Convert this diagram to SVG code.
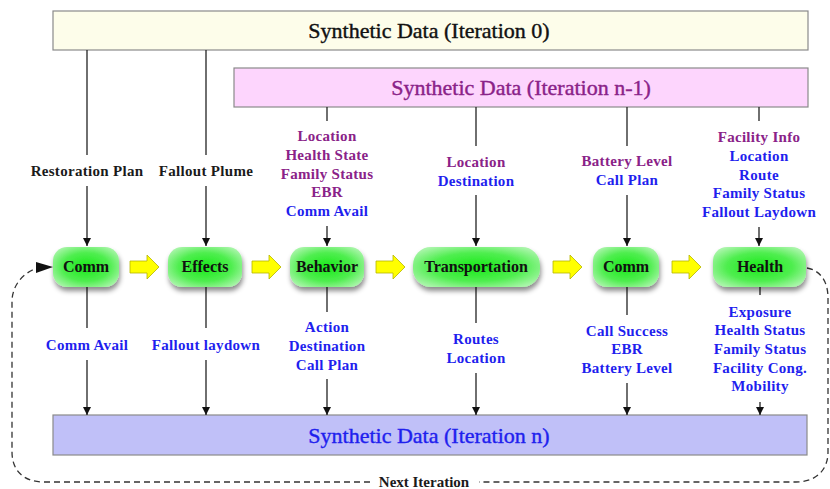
<svg xmlns="http://www.w3.org/2000/svg" xmlns:xlink="http://www.w3.org/1999/xlink" width="830" height="489" viewBox="0 0 830 489">
<style>
.box{stroke:#8a8a8a;stroke-width:1.2}
.title{font-size:22px;text-anchor:middle;stroke-width:0.4}
.lbl{font-size:15px;font-weight:bold;text-anchor:middle;letter-spacing:0.3px}
.node text{font-size:16px;font-weight:bold;text-anchor:middle;fill:#111}
.k{fill:#1a1a1a}
.p{fill:#8a2288}
.b{fill:#1f1fee}
.ln{stroke:#222;stroke-width:1.3;fill:none}
.ar{stroke:#222;stroke-width:1.3;fill:none;marker-end:url(#ah)}
.dash{stroke:#333;stroke-width:1.3;fill:none;stroke-dasharray:6 4}
.ya{fill:#ffff00;stroke:#b5b500;stroke-width:0.8}
</style>
<defs>
<marker id="ah" viewBox="0 0 10 10" refX="10" refY="5" markerWidth="8" markerHeight="8" orient="auto" markerUnits="userSpaceOnUse">
<path d="M0,0 L10,5 L0,10 Z" fill="#111"/>
</marker>
<radialGradient id="gg" cx="50%" cy="50%" r="60%">
<stop offset="0" stop-color="#18ea18"/>
<stop offset="0.6" stop-color="#50ee50"/>
<stop offset="1" stop-color="#a8f5a8"/>
</radialGradient>
<filter id="sh" x="-20%" y="-20%" width="140%" height="160%">
<feDropShadow dx="1" dy="4" stdDeviation="2.5" flood-color="#000" flood-opacity="0.45"/>
</filter>
<path id="ya" d="M0,-6 H17 V-12 L29,0 L17,12 V6 H0 Z"/>
</defs>

<g id="data0">
<rect class="box" x="53" y="11" width="755" height="39" fill="#fdfdea"/>
<text class="title" x="429" y="38" font-family="Liberation Serif, serif" fill="#111" stroke="#111">Synthetic Data (Iteration 0)</text>
</g>
<g id="datan1">
<rect class="box" x="234" y="68" width="574" height="39" fill="#fdd5fd"/>
<text class="title" x="521" y="95" font-family="Liberation Serif, serif" fill="#8a2288" stroke="#8a2288">Synthetic Data (Iteration n-1)</text>
</g>
<g id="datan">
<rect class="box" x="53" y="415" width="754" height="40" fill="#c0c0f8"/>
<text class="title" x="429" y="443" font-family="Liberation Serif, serif" fill="#1f1fee" stroke="#1f1fee">Synthetic Data (Iteration n)</text>
</g>

<g id="connectors">
<line class="ln" x1="87" y1="50" x2="87" y2="155"/>
<line class="ar" x1="87" y1="186" x2="87" y2="246"/>
<line class="ln" x1="206" y1="50" x2="206" y2="155"/>
<line class="ar" x1="206" y1="186" x2="206" y2="246"/>
<line class="ln" x1="327" y1="107" x2="327" y2="121"/>
<line class="ar" x1="327" y1="226" x2="327" y2="246"/>
<line class="ln" x1="476" y1="107" x2="476" y2="146"/>
<line class="ar" x1="476" y1="195" x2="476" y2="246"/>
<line class="ln" x1="627" y1="107" x2="627" y2="146"/>
<line class="ar" x1="627" y1="195" x2="627" y2="246"/>
<line class="ln" x1="759" y1="107" x2="759" y2="121"/>
<line class="ar" x1="759" y1="227" x2="759" y2="246"/>
<line class="ln" x1="87" y1="287" x2="87" y2="328"/>
<line class="ar" x1="87" y1="360" x2="87" y2="415"/>
<line class="ln" x1="206" y1="287" x2="206" y2="328"/>
<line class="ar" x1="206" y1="360" x2="206" y2="415"/>
<line class="ln" x1="327" y1="287" x2="327" y2="312"/>
<line class="ar" x1="327" y1="379" x2="327" y2="415"/>
<line class="ln" x1="476" y1="287" x2="476" y2="323"/>
<line class="ar" x1="476" y1="373" x2="476" y2="415"/>
<line class="ln" x1="627" y1="287" x2="627" y2="315"/>
<line class="ar" x1="627" y1="383" x2="627" y2="415"/>
<line class="ln" x1="760" y1="287" x2="760" y2="295"/>
<line class="ar" x1="760" y1="402" x2="760" y2="415"/>
<use href="#ya" class="ya" x="130" y="267"/>
<use href="#ya" class="ya" x="252" y="267"/>
<use href="#ya" class="ya" x="376" y="267"/>
<use href="#ya" class="ya" x="553" y="267"/>
<use href="#ya" class="ya" x="672" y="267"/>
<path class="dash" d="M807 268 C819 270 828 280 828 298 L828 452 C828 471 815 482 796 482 L479 482"/>
<path class="dash" d="M370 482 L44 482 C24 482 12 471 12 452 L12 300 C13 284 24 272 38 268"/>
<path d="M36 262 L53 267 L36 273 Z" fill="#111"/>
<text x="424" y="486.5" font-family="Liberation Serif, serif" font-size="15" font-weight="bold" text-anchor="middle" fill="#1a1a1a">Next Iteration</text>
</g>

<g id="labels" font-family="Liberation Serif, serif">
<text class="lbl k" x="87" y="176">Restoration Plan</text>
<text class="lbl k" x="206" y="176">Fallout Plume</text>
<text class="lbl p" x="327" y="141">Location</text>
<text class="lbl p" x="327" y="160">Health State</text>
<text class="lbl p" x="327" y="179">Family Status</text>
<text class="lbl p" x="327" y="197">EBR</text>
<text class="lbl b" x="327" y="216">Comm Avail</text>
<text class="lbl p" x="476" y="167">Location</text>
<text class="lbl b" x="476" y="186">Destination</text>
<text class="lbl p" x="627" y="166">Battery Level</text>
<text class="lbl b" x="627" y="185">Call Plan</text>
<text class="lbl p" x="759" y="142">Facility Info</text>
<text class="lbl b" x="759" y="161">Location</text>
<text class="lbl b" x="759" y="180">Route</text>
<text class="lbl b" x="759" y="198">Family Status</text>
<text class="lbl b" x="759" y="217">Fallout Laydown</text>
<text class="lbl b" x="87" y="350">Comm Avail</text>
<text class="lbl b" x="206" y="350">Fallout laydown</text>
<text class="lbl b" x="327" y="332">Action</text>
<text class="lbl b" x="327" y="351">Destination</text>
<text class="lbl b" x="327" y="370">Call Plan</text>
<text class="lbl b" x="476" y="344">Routes</text>
<text class="lbl b" x="476" y="363">Location</text>
<text class="lbl b" x="627" y="336">Call Success</text>
<text class="lbl b" x="627" y="354">EBR</text>
<text class="lbl b" x="627" y="373">Battery Level</text>
<text class="lbl b" x="760" y="317">Exposure</text>
<text class="lbl b" x="760" y="335">Health Status</text>
<text class="lbl b" x="760" y="354">Family Status</text>
<text class="lbl b" x="760" y="373">Facility Cong.</text>
<text class="lbl b" x="760" y="391">Mobility</text>
</g>

<g id="comm1" class="node" font-family="Liberation Serif, serif">
<rect x="53" y="247" width="66" height="40" rx="14" fill="url(#gg)" filter="url(#sh)"/>
<text x="86" y="272">Comm</text>
</g>
<g id="effects" class="node" font-family="Liberation Serif, serif">
<rect x="168" y="247" width="74" height="40" rx="14" fill="url(#gg)" filter="url(#sh)"/>
<text x="205" y="272">Effects</text>
</g>
<g id="behavior" class="node" font-family="Liberation Serif, serif">
<rect x="290" y="247" width="74" height="40" rx="14" fill="url(#gg)" filter="url(#sh)"/>
<text x="327" y="272">Behavior</text>
</g>
<g id="transportation" class="node" font-family="Liberation Serif, serif">
<rect x="413" y="247" width="127" height="40" rx="18" fill="url(#gg)" filter="url(#sh)"/>
<text x="476" y="272">Transportation</text>
</g>
<g id="comm2" class="node" font-family="Liberation Serif, serif">
<rect x="593" y="247" width="66" height="40" rx="14" fill="url(#gg)" filter="url(#sh)"/>
<text x="626" y="272">Comm</text>
</g>
<g id="health" class="node" font-family="Liberation Serif, serif">
<rect x="713" y="247" width="93" height="40" rx="14" fill="url(#gg)" filter="url(#sh)"/>
<text x="760" y="272">Health</text>
</g>
</svg>
